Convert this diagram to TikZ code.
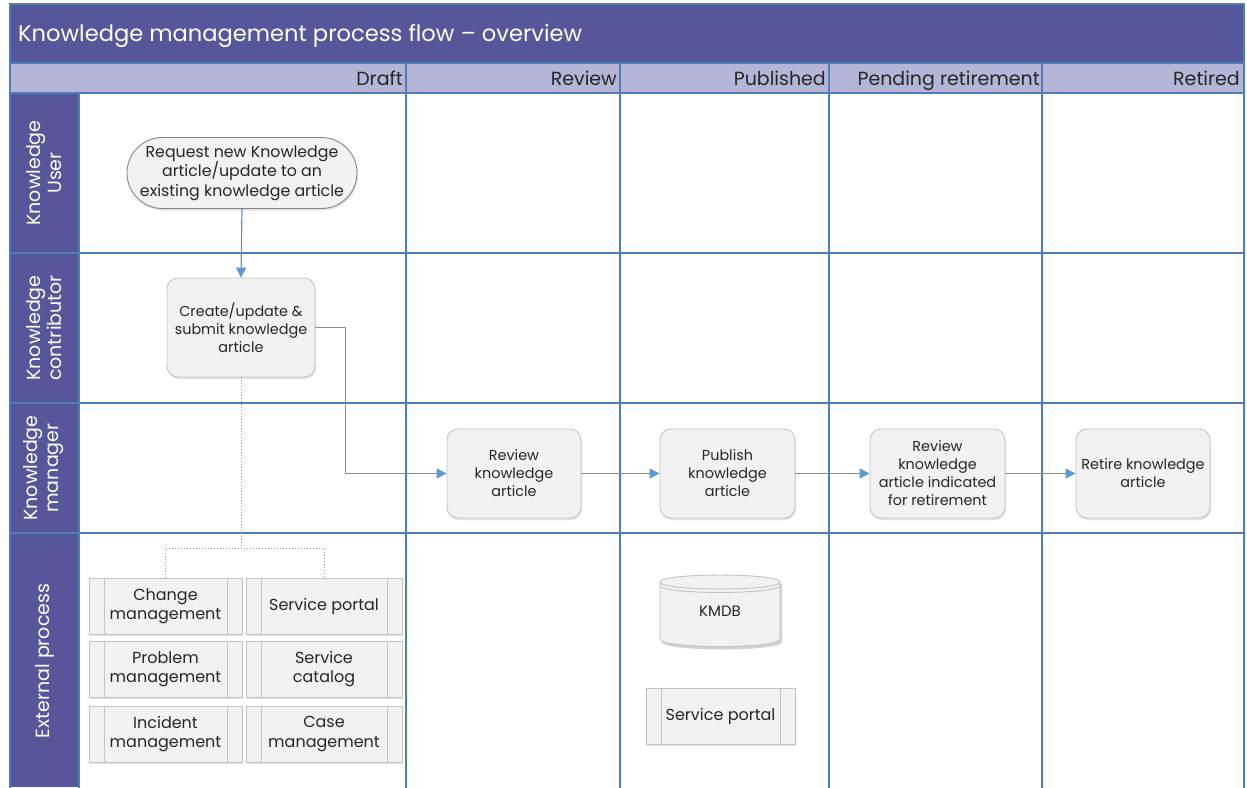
\documentclass[tikz,border=0pt]{standalone}
\usepackage{fontspec}
\setmainfont{Poppins}
\usetikzlibrary{shapes.geometric,shapes.misc,arrows.meta,shadows,calc}

\definecolor{bandbg}{HTML}{56569A}
\definecolor{colhead}{HTML}{B4B5D7}
\definecolor{laneline}{HTML}{4F7DB8}
\definecolor{flow}{HTML}{5B9BD5}
\definecolor{boxfill}{HTML}{F2F2F2}
\definecolor{boxline}{HTML}{C4C4C4}
\definecolor{termline}{HTML}{858585}
\definecolor{ink}{HTML}{262626}

\tikzset{
  grid/.style={draw=laneline, line width=1.6pt},
  softshadow/.style={drop shadow={opacity=0.22, shadow xshift=1pt, shadow yshift=-2pt}},
  task/.style={draw=boxline, fill=boxfill, rounded corners=11pt, line width=0.9pt,
    softshadow, align=center, text=ink, font=\fontsize{14.4}{18}\selectfont, inner sep=1pt},
  terminal/.style={rounded rectangle, draw=termline, fill=boxfill, line width=0.9pt,
    softshadow, align=center, text=ink, font=\fontsize{15.8}{19.5}\selectfont, inner sep=0pt},
  predef/.style={draw=boxline, fill=boxfill, line width=0.9pt, softshadow,
    align=center, text=ink, font=\fontsize{16}{19.5}\selectfont, inner sep=0pt,
    path picture={
      \draw[boxline, line width=0.9pt]
        ([xshift=15pt]path picture bounding box.north west) -- ([xshift=15pt]path picture bounding box.south west)
        ([xshift=-15pt]path picture bounding box.north east) -- ([xshift=-15pt]path picture bounding box.south east);
    }},
  flowline/.style={draw=flow, line width=1.2pt},
  flowarrow/.style={flowline, -{Triangle[length=10pt,width=10pt]}},
  linkline/.style={draw=gray!80, line width=1pt, dotted},
  colhdr/.style={anchor=base east, text=ink, font=\fontsize{19}{22}\selectfont, inner sep=0pt},
  lanehdr/.style={rotate=90, text=white, align=center, font=\fontsize{19}{21}\selectfont, inner sep=0pt}
}

\begin{document}
\begin{tikzpicture}[x=1pt, y=-1pt]
  \useasboundingbox (0,0) rectangle (1247,787);
  \fill[white] (0,0) rectangle (1247,787);

  % title band, column header band and lane header column
  \fill[bandbg] (10,4) rectangle (1244,63);
  \fill[colhead] (10,63) rectangle (1244,93);
  \fill[bandbg] (10,93) rectangle (79,787);

  \node[anchor=base west, text=white, font=\fontsize{22.6}{26}\selectfont, inner sep=0pt] (title) at (18,41)
    {Knowledge management process flow – overview};

  % lane and column rules
  \draw[grid] (10,4) rectangle (1244,800);
  \draw[grid] (10,63) -- (1244,63);
  \foreach \yy in {93,253,403,533} \draw[grid] (10,\yy) -- (1244,\yy);
  \draw[grid] (79,93) -- (79,800);
  \foreach \xx in {406,620,829,1042} \draw[grid] (\xx,63) -- (\xx,800);

  % column headers
  \node[colhdr] (hdraft)  at (403,85)  {Draft};
  \node[colhdr] (hreview) at (617,85)  {Review};
  \node[colhdr] (hpub)    at (826,85)  {Published};
  \node[colhdr] (hpend)   at (1040,85) {Pending retirement};
  \node[colhdr] (hret)    at (1240,85) {Retired};

  % lane headers
  \node[lanehdr] (luser)    at (44,173) {Knowledge\\User};
  \node[lanehdr] (lcontrib) at (44,328) {Knowledge\\contributor};
  \node[lanehdr] (lmanager) at (44,468) {Knowledge\\manager};
  \node[lanehdr] (lext)     at (45,661) {External process};

  % process steps
  \node[terminal, minimum width=226pt, minimum height=71pt] (request) at (242,173)
    {Request new Knowledge\\article/update to an\\existing knowledge article};
  \node[task, minimum width=148pt, minimum height=99pt] (create) at (241,327.5)
    {Create/update \&\\submit knowledge\\article};
  \node[task, minimum width=134pt, minimum height=89pt] (review) at (514,473.5)
    {Review\\knowledge\\article};
  \node[task, minimum width=135pt, minimum height=89pt] (publish) at (727.5,473.5)
    {Publish\\knowledge\\article};
  \node[task, minimum width=135pt, minimum height=89pt] (revret) at (937.5,473.5)
    {Review\\knowledge\\article indicated\\for retirement};
  \node[task, minimum width=134pt, minimum height=89pt] (retire) at (1143,473.5)
    {Retire knowledge\\article};

  % external processes
  \node[predef, minimum width=153pt, minimum height=56pt] (change)   at (165.5,606) {Change\\management};
  \node[predef, minimum width=156pt, minimum height=56pt] (portalA)  at (324,606)   {Service portal};
  \node[predef, minimum width=153pt, minimum height=56pt] (problem)  at (165.5,669) {Problem\\management};
  \node[predef, minimum width=156pt, minimum height=56pt] (catalog)  at (324,669)   {Service\\catalog};
  \node[predef, minimum width=153pt, minimum height=56pt] (incident) at (165.5,734) {Incident\\management};
  \node[predef, minimum width=156pt, minimum height=56pt] (casemgmt) at (324,734)   {Case\\management};

  % knowledge base cylinder
  \fill[black, opacity=0.18] (662,584) -- (662,642) .. controls (663,652) and (781,652) .. (782,642) -- (782,584) -- cycle;
  \filldraw[fill=boxfill, draw=boxline, line width=0.9pt]
    (660,582) -- (660,639) .. controls (661,649) and (779,649) .. (780,639) -- (780,582)
    .. controls (780,572.7) and (660,572.7) .. (660,582) -- cycle;
  \draw[boxline, line width=0.9pt] (660,582) .. controls (660,591.3) and (780,591.3) .. (780,582);
  \draw[boxline, line width=0.9pt] (660,585.5) .. controls (660,594.8) and (780,594.8) .. (780,585.5);
  \node[text=ink, font=\fontsize{15}{19.5}\selectfont, inner sep=0pt] (kmdb) at (720,611) {KMDB};

  \node[predef, minimum width=149pt, minimum height=56pt] (portalB) at (720.5,716) {Service portal};

  % flow
  \draw[flowarrow] (request.south) -- (create.north);
  \draw[flowarrow] (create.east) -- ++(30,0) |- (review.west);
  \draw[flowarrow] (review.east) -- (publish.west);
  \draw[flowarrow] (publish.east) -- (revret.west);
  \draw[flowarrow] (revret.east) -- (retire.west);

  % link to external processes
  \coordinate (split) at (241,548);
  \draw[linkline] (create.south) -- (split);
  \draw[linkline] (change.north) |- (split) -| (portalA.north);
\end{tikzpicture}
\end{document}
